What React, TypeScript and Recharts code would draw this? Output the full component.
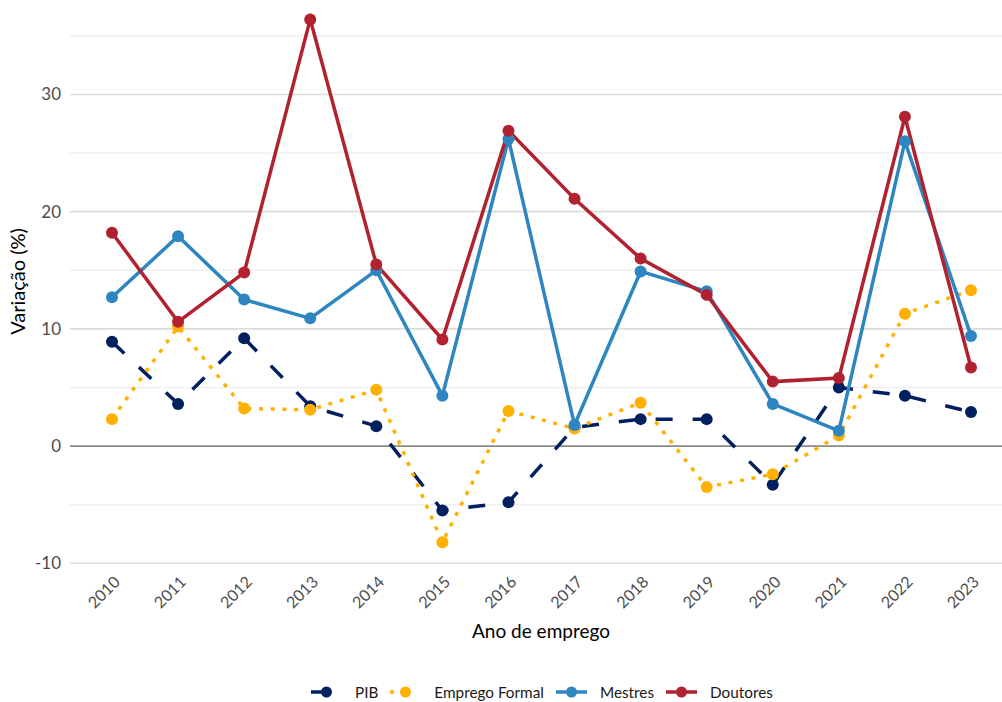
import React from "react";
import { LineChart, Line, XAxis, YAxis, CartesianGrid, ReferenceLine } from "recharts";

const years = ["2010","2011","2012","2013","2014","2015","2016","2017","2018","2019","2020","2021","2022","2023"];
const pib = [8.9, 3.6, 9.2, 3.4, 1.7, -5.5, -4.8, 1.6, 2.3, 2.3, -3.3, 5.0, 4.3, 2.9];
const empregoFormal = [2.3, 10.2, 3.2, 3.1, 4.8, -8.2, 3.0, 1.5, 3.7, -3.5, -2.4, 0.9, 11.3, 13.3];
const mestres = [12.7, 17.9, 12.5, 10.9, 15.0, 4.3, 26.2, 1.8, 14.9, 13.2, 3.6, 1.3, 26.0, 9.4];
const doutores = [18.2, 10.6, 14.8, 36.4, 15.5, 9.1, 26.9, 21.1, 16.0, 12.9, 5.5, 5.8, 28.1, 6.7];

const majorTicks = [-10, 0, 10, 20, 30];
const minorTicks = [-5, 5, 15, 25, 35];

const seriesNames = ["PIB", "Emprego Formal", "Mestres", "Doutores"];
const seriesKeys = ["pib", "emprego", "mestres", "doutores"];
const seriesColors = ["#002060", "#FFB000", "#2E86C1", "#B2212F"];
const seriesDash = ["17 20", "4 7.7", undefined, undefined];
const legendDash = ["17 40", "4 40", undefined, undefined];

const data = years.map((y, i) => ({
  year: y,
  pib: pib[i],
  emprego: empregoFormal[i],
  mestres: mestres[i],
  doutores: doutores[i],
}));

const FONT = "Lato, 'Open Sans', sans-serif";

const XTick = (props: any) => {
  const { x, y, payload } = props;
  return (
    <text
      transform={`translate(${x + 9},${y + 15}) rotate(-45)`}
      textAnchor="end"
      fontSize={16}
      fill="#4d4d4d"
      fontFamily={FONT}
    >
      {payload.value}
    </text>
  );
};

const XLabel = (props: any) => {
  const vb = props.viewBox || { x: 0, y: 0, width: 0, height: 0 };
  return (
    <text
      x={vb.x + vb.width / 2 + 5}
      y={vb.y + 70}
      textAnchor="middle"
      fontSize={19}
      fill="#000"
      fontFamily={FONT}
    >
      Ano de emprego
    </text>
  );
};

const YLabel = (props: any) => {
  const vb = props.viewBox || { x: 0, y: 0, width: 0, height: 0 };
  const cy = vb.y + vb.height / 2 - 4;
  return (
    <text
      transform={`translate(${vb.x + 25},${cy}) rotate(-90)`}
      textAnchor="middle"
      fontSize={20}
      fill="#000"
      fontFamily={FONT}
    >
      Variação (%)
    </text>
  );
};

const Legend = () => (
  <div
    style={{
      position: "absolute",
      left: 311,
      top: 680,
      display: "flex",
      alignItems: "center",
      fontFamily: FONT,
      fontSize: 15.3,
      color: "#1a1a1a",
      whiteSpace: "nowrap",
    }}
  >
    {seriesNames.map((n, i) => (
      <div key={n} style={{ display: "flex", alignItems: "center", marginRight: 12 }}>
        <svg width={31} height={24} style={{ marginRight: 13 }}>
          <line
            x1={0}
            y1={12}
            x2={31}
            y2={12}
            stroke={seriesColors[i]}
            strokeWidth={3.5}
            strokeDasharray={legendDash[i]}
          />
          <circle cx={15.5} cy={12} r={5.5} fill={seriesColors[i]} />
        </svg>
        <span>{n}</span>
      </div>
    ))}
  </div>
);

export default function App() {
  return (
    <div style={{ position: "absolute", left: 0, top: 0, width: 1002, height: 702, background: "#fff", overflow: "hidden" }}>
      <LineChart
        width={1002}
        height={702}
        data={data}
        margin={{ top: 3, right: 0, bottom: 0, left: 0 }}
      >
        <CartesianGrid vertical={false} stroke="#dcdcdc" strokeWidth={1.6} horizontalValues={majorTicks} />
        {minorTicks.map((t) => (
          <ReferenceLine key={t} y={t} stroke="#f0f0f0" strokeWidth={1.4} ifOverflow="extendDomain" />
        ))}
        <ReferenceLine y={0} stroke="#8c8c8c" strokeWidth={1.6} />
        <XAxis
          dataKey="year"
          padding={{ left: 42, right: 31 }}
          tickLine={false}
          axisLine={false}
          tick={<XTick />}
          interval={0}
          height={134}
          tickSize={0}
          tickMargin={0}
          label={<XLabel />}
        />
        <YAxis
          domain={[-10.4, 37.8]}
          ticks={majorTicks}
          tickLine={false}
          axisLine={false}
          width={70}
          tickSize={0}
          tickMargin={9}
          allowDataOverflow
          tick={{ fontSize: 17, fill: "#4d4d4d", fontFamily: FONT }}
          label={<YLabel />}
        />
        {seriesKeys.map((k, i) => (
          <Line
            key={k}
            dataKey={k}
            name={seriesNames[i]}
            stroke={seriesColors[i]}
            strokeWidth={3.5}
            strokeDasharray={seriesDash[i]}
            dot={{ r: 6, fill: seriesColors[i], stroke: "none", strokeDasharray: "" } as any}
            activeDot={false}
            isAnimationActive={false}
          />
        ))}
      </LineChart>
      <Legend />
    </div>
  );
}
